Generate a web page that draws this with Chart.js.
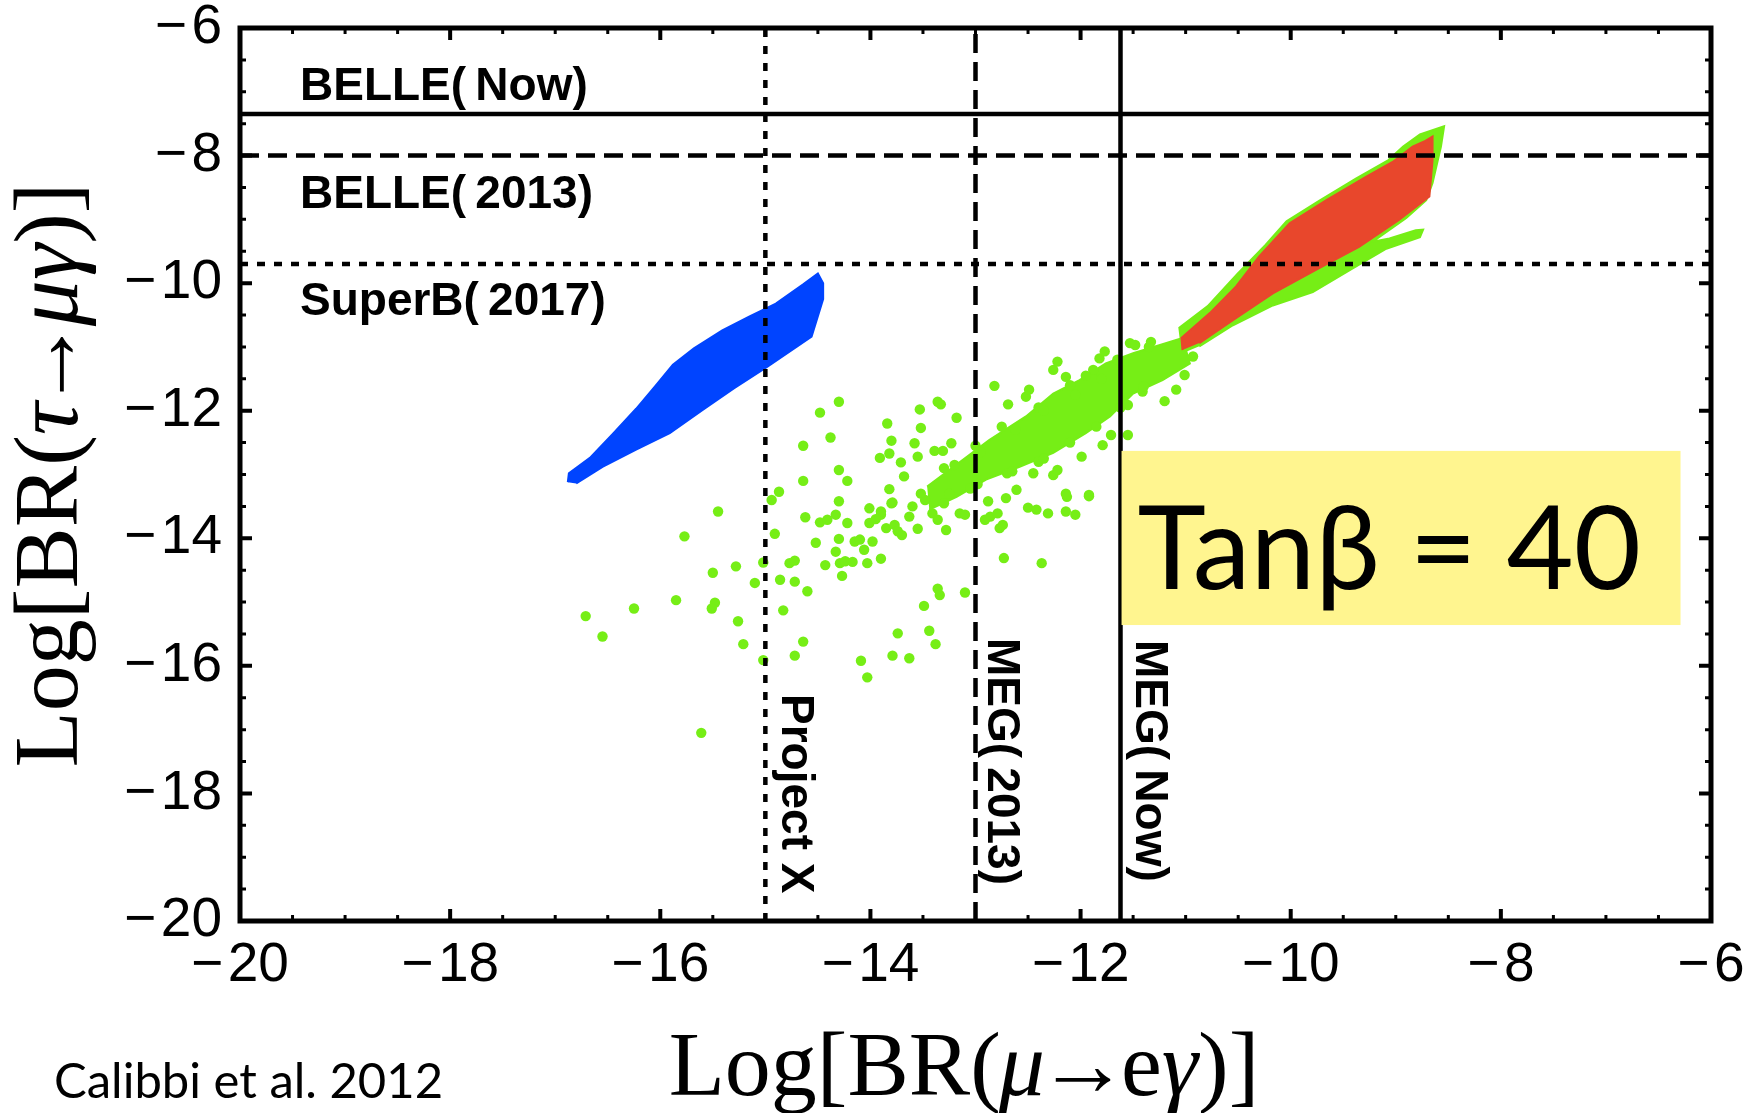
<!DOCTYPE html>
<html>
<head>
<meta charset="utf-8">
<title>Log BR(τ→μγ) vs Log BR(μ→eγ)</title>
<script src="https://cdn.jsdelivr.net/npm/chart.js@4.4.1/dist/chart.umd.min.js"></script>
<style>
  html, body { margin: 0; padding: 0; background: #fff; }
  #wrap { width: 1754px; height: 1113px; position: relative; }
</style>
</head>
<body>
<div id="wrap"><canvas id="lfv-chart"></canvas></div>
<script>
// ---- axes: log10 of the branching ratios ----
const axisMin = -20;
const axisMax = -6;
const majorStep = 2;
const minorStep = 0.5;

// ---- experimental limits ----
const tauLimitLabels = ['BELLE(\u2009Now)', 'BELLE(\u20092013)', 'SuperB(\u20092017)'];
const tauLimitValues = [-7.35, -8.0, -9.7];
const muLimitLabels = ['Project X', 'MEG(\u20092013)', 'MEG(\u2009Now)'];
const muLimitValues = [-15.0, -13.0, -11.62];

// ---- scan regions, [log BR(mu->e gamma), log BR(tau->mu gamma)] ----
const blueRegion = [
    [-16.88, -13.12], [-16.87, -12.98], [-16.67, -12.74], [-16.45, -12.36], [-16.23, -11.97],
    [-16.05, -11.62], [-15.88, -11.28], [-15.68, -11.02], [-15.41, -10.74], [-15.15, -10.52],
    [-14.90, -10.32], [-14.64, -10.02], [-14.50, -9.85], [-14.45, -10.00], [-14.45, -10.25],
    [-14.56, -10.84], [-14.98, -11.31], [-15.30, -11.65], [-15.60, -11.99], [-15.91, -12.35],
    [-16.23, -12.61], [-16.55, -12.88], [-16.80, -13.14]
];

const redRegion = [
    [-11.03, -11.05], [-11.04, -10.86], [-10.77, -10.47], [-10.52, -10.05], [-10.30, -9.58],
    [-10.01, -9.06], [-9.66, -8.70], [-9.28, -8.33], [-9.03, -8.10], [-8.84, -7.86],
    [-8.73, -7.78], [-8.65, -7.70], [-8.65, -8.07], [-8.68, -8.64], [-8.97, -9.01],
    [-9.35, -9.43], [-9.76, -9.79], [-10.17, -10.16], [-10.55, -10.58], [-10.87, -10.94]
];

const greenHalo = [
    [-11.03, -11.10], [-11.06, -10.70], [-10.79, -10.36], [-10.51, -9.86], [-10.24, -9.40],
    [-10.04, -9.03], [-9.73, -8.71], [-9.38, -8.36], [-9.07, -8.07], [-8.93, -7.86],
    [-8.77, -7.67], [-8.54, -7.54], [-8.57, -7.86], [-8.65, -8.43], [-8.71, -8.70],
    [-8.90, -8.98], [-9.22, -9.35], [-9.06, -9.30], [-8.81, -9.17], [-8.74, -9.16],
    [-8.77, -9.28], [-9.09, -9.46], [-9.41, -9.77], [-9.79, -10.14], [-10.17, -10.35],
    [-10.55, -10.66], [-10.87, -10.99]
];

const greenCore = [
    [-13.46, -13.19], [-13.12, -12.77], [-12.87, -12.46], [-12.52, -12.09], [-12.26, -11.73],
    [-12.01, -11.52], [-11.76, -11.26], [-11.50, -11.10], [-11.19, -10.94], [-11.03, -10.86],
    [-10.96, -11.26], [-11.22, -11.52], [-11.50, -11.73], [-11.72, -12.09], [-11.95, -12.35],
    [-12.26, -12.66], [-12.58, -12.88], [-12.90, -13.08], [-13.18, -13.35], [-13.44, -13.55]
];

const greenPoints = [
    [-14.30, -11.86], [-14.48, -12.03], [-13.84, -12.20], [-13.80, -12.47], [-14.64, -12.55], [-14.38, -12.42],
    [-13.91, -12.74], [-13.82, -12.67], [-14.30, -12.93], [-14.22, -13.10], [-14.64, -13.10], [-13.82, -13.23],
    [-14.87, -13.27], [-14.94, -13.40], [-14.30, -13.42], [-14.01, -13.53], [-13.80, -13.45], [-13.90, -13.63],
    [-15.45, -13.58], [-14.62, -13.67], [-14.48, -13.75], [-14.41, -13.71], [-14.33, -13.63], [-14.22, -13.76],
    [-14.01, -13.76], [-13.85, -13.84], [-13.77, -13.79], [-13.74, -13.89], [-15.77, -13.97], [-14.91, -13.93],
    [-14.52, -14.07], [-14.30, -14.01], [-14.15, -14.05], [-14.10, -14.02], [-14.06, -14.18], [-13.98, -14.05],
    [-14.33, -14.21], [-14.43, -14.42], [-14.29, -14.39], [-14.24, -14.36], [-14.17, -14.37], [-14.27, -14.59],
    [-14.03, -14.39], [-13.90, -14.32], [-14.77, -14.39], [-14.72, -14.35], [-15.28, -14.44], [-15.50, -14.54],
    [-14.86, -14.65], [-14.72, -14.68], [-15.10, -14.70], [-14.60, -14.83], [-15.02, -14.38], [-15.85, -14.97],
    [-16.25, -15.10], [-15.48, -15.01], [-15.51, -15.10], [-16.71, -15.22], [-14.83, -15.13], [-15.26, -15.30],
    [-16.55, -15.54], [-15.21, -15.66], [-15.02, -15.91], [-14.64, -15.62], [-14.72, -15.84], [-15.61, -17.05],
    [-14.09, -15.92], [-14.03, -16.18], [-13.74, -15.49], [-13.79, -15.84], [-13.63, -15.88], [-13.49, -15.06],
    [-13.44, -15.45], [-13.38, -15.66], [-13.36, -14.79], [-13.34, -14.89], [-13.10, -14.85],
    [-12.37, -14.39], [-12.73, -14.31], [-12.77, -13.84], [-12.86, -13.66], [-12.50, -13.52], [-12.13, -13.35],
    [-11.92, -13.34], [-12.05, -13.63],
    [-13.53, -11.98], [-13.36, -11.86], [-13.33, -11.90], [-13.18, -12.11], [-13.52, -12.27], [-13.58, -12.51],
    [-13.23, -12.51], [-13.39, -12.63], [-13.31, -12.63], [-13.55, -12.72], [-13.71, -12.81], [-13.68, -13.03],
    [-13.79, -13.44], [-13.90, -13.58], [-13.60, -13.50], [-13.63, -13.66], [-13.41, -13.61], [-13.36, -13.71],
    [-13.28, -13.87], [-13.15, -13.61], [-13.10, -13.63], [-12.88, -13.42], [-12.91, -13.71], [-12.79, -13.61],
    [-12.71, -13.37], [-12.61, -13.24], [-12.74, -13.79], [-12.42, -13.55], [-12.31, -13.61], [-12.14, -13.30],
    [-12.14, -13.58], [-11.92, -13.32], [-12.45, -12.98], [-12.26, -13.01], [-12.22, -12.93], [-11.99, -12.72],
    [-11.79, -12.54], [-11.71, -12.38], [-11.55, -12.38], [-12.82, -11.61], [-12.69, -11.90], [-12.52, -11.78],
    [-12.49, -11.67], [-12.26, -11.36], [-12.22, -11.23], [-12.14, -11.47], [-11.88, -11.36], [-11.82, -11.18],
    [-11.77, -11.07], [-11.53, -10.94], [-11.48, -10.97], [-11.33, -10.92], [-11.41, -11.70], [-11.09, -11.67],
    [-11.20, -11.85], [-11.01, -11.44], [-10.93, -11.15], [-11.55, -11.91],
    [-13.30, -12.90], [-13.00, -12.55], [-12.75, -12.25], [-12.40, -11.95], [-12.10, -11.60], [-11.95, -11.45],
    [-11.65, -11.20], [-11.35, -11.00], [-11.40, -11.62], [-11.62, -11.95], [-11.85, -12.25], [-12.10, -12.50],
    [-12.40, -12.80], [-12.70, -12.98], [-13.05, -13.22], [-13.30, -13.45],
    [-13.95, -13.70], [-13.70, -13.95], [-13.55, -13.85], [-13.48, -13.40], [-13.52, -13.30],
    [-13.20, -12.85], [-12.95, -12.65], [-12.62, -12.30], [-12.35, -12.00], [-12.05, -11.75], [-11.80, -11.50],
    [-13.25, -13.30], [-12.98, -13.15], [-12.65, -12.95], [-12.35, -12.75]
];

// yellow annotation box, in axis units
const tanBetaText = 'Tanβ = 40';
const tanBetaBox = { x0: -11.61, x1: -6.29, y0: -12.63, y1: -15.36 };
const creditText = 'Calibbi et al. 2012';

// ---- colours / styles ----
const GREEN = '#76ee16';
const RED = '#e8472c';
const BLUE = '#0044ff';
const tauDashes = [[], [19, 9], [8, 9]];   // solid, dashed, dotted
const muDashes = [[8, 9], [19, 9], []];    // dotted, dashed, solid

const toXY = pts => pts.map(([x, y]) => ({ x, y }));

function regionDataset(pts, color, order) {
    return {
        data: toXY(pts),
        showLine: true,
        fill: 'shape',
        backgroundColor: color,
        borderColor: color,
        borderWidth: 2,
        pointRadius: 0,
        tension: 0,
        order
    };
}

function limitDataset(points, dash) {
    return {
        data: points,
        showLine: true,
        fill: false,
        borderColor: '#000',
        borderWidth: 4.5,
        borderDash: dash,
        borderCapStyle: 'butt',
        pointRadius: 0,
        order: 0
    };
}

const datasets = [
    regionDataset(greenHalo, GREEN, 10),
    regionDataset(greenCore, GREEN, 9),
    {
        data: toXY(greenPoints),
        backgroundColor: GREEN,
        borderWidth: 0,
        pointRadius: 5.2,
        order: 8
    },
    regionDataset(redRegion, RED, 7),
    regionDataset(blueRegion, BLUE, 6),
    ...tauLimitValues.map((v, i) => limitDataset([{ x: axisMin, y: v }, { x: axisMax, y: v }], tauDashes[i])),
    ...muLimitValues.map((v, i) => limitDataset([{ x: v, y: axisMin }, { x: v, y: axisMax }], muDashes[i]))
];

const SERIF = '"Liberation Serif", "Times New Roman", "DejaVu Serif", serif';
const SANS = '"Liberation Sans", Arial, Helvetica, sans-serif';

// draws a row of [text, italic, kern] runs centred on x; kern tightens the gap after a run
function drawRuns(ctx, runs, x, y, size) {
    const fonts = runs.map(([, italic]) => `${italic ? 'italic ' : ''}${size}px ${SERIF}`);
    const widths = runs.map(([t, , kern = 0], i) => { ctx.font = fonts[i]; return ctx.measureText(t).width + kern; });
    let cx = x - widths.reduce((a, b) => a + b, 0) / 2;
    ctx.textAlign = 'left';
    ctx.textBaseline = 'alphabetic';
    runs.forEach(([t], i) => { ctx.font = fonts[i]; ctx.fillText(t, cx, y); cx += widths[i]; });
}

/* -------------------- annotations, frame and ticks -------------------- */

const decorations = {
    id: 'decorations',
    afterDatasetsDraw(chart) {
        const { ctx, chartArea: a, scales: { x, y } } = chart;
        ctx.save();
        ctx.fillStyle = '#000';

        // limit labels
        ctx.font = `bold 46px ${SANS}`;
        ctx.textAlign = 'left';
        ctx.textBaseline = 'alphabetic';
        const hOffsets = [-14, 52, 51];
        tauLimitLabels.forEach((label, i) => {
            ctx.fillText(label, a.left + 60, y.getPixelForValue(tauLimitValues[i]) + hOffsets[i]);
        });
        const vOffsets = [17, 12, 16];
        const vStarts = [694, 638, 640];
        muLimitLabels.forEach((label, i) => {
            ctx.save();
            ctx.translate(x.getPixelForValue(muLimitValues[i]) + vOffsets[i], vStarts[i]);
            ctx.rotate(Math.PI / 2);
            ctx.fillText(label, 0, 0);
            ctx.restore();
        });

        // tan beta box
        const bx0 = x.getPixelForValue(tanBetaBox.x0);
        const bx1 = x.getPixelForValue(tanBetaBox.x1);
        const by0 = y.getPixelForValue(tanBetaBox.y0);
        const by1 = y.getPixelForValue(tanBetaBox.y1);
        ctx.fillStyle = '#fff58f';
        ctx.fillRect(bx0, by0, bx1 - bx0, by1 - by0);
        ctx.fillStyle = '#000';
        ctx.font = `116px Lato, "Open Sans", "Noto Sans", sans-serif`;
        ctx.fillText(tanBetaText, bx0 + 16, by0 + 138);

        // frame
        ctx.strokeStyle = '#000';
        ctx.lineWidth = 5;
        ctx.strokeRect(a.left, a.top, a.right - a.left, a.bottom - a.top);

        // inward ticks on all four sides
        for (let k = 0; k <= (axisMax - axisMin) / minorStep; k++) {
            const v = axisMin + k * minorStep;
            const major = Math.abs(v / majorStep - Math.round(v / majorStep)) < 1e-9;
            const len = major ? 12 : 6;
            ctx.lineWidth = major ? 4 : 3;
            const px = x.getPixelForValue(v);
            const py = y.getPixelForValue(v);
            ctx.beginPath();
            ctx.moveTo(px, a.bottom); ctx.lineTo(px, a.bottom - len);
            ctx.moveTo(px, a.top); ctx.lineTo(px, a.top + len);
            ctx.moveTo(a.left, py); ctx.lineTo(a.left + len, py);
            ctx.moveTo(a.right, py); ctx.lineTo(a.right - len, py);
            ctx.stroke();
        }

        // axis titles
        drawRuns(ctx, [['Log[BR(', false, -2], ['μ', true, -8], ['→', false, -8], ['e', false], ['γ', true], [')]', false]],
            964, 1095, 92);
        ctx.save();
        ctx.translate(77, 475);
        ctx.rotate(-Math.PI / 2);
        drawRuns(ctx, [['Log[BR(', false], ['τ', true, -8], ['→', false, -8], ['μγ', true], [')]', false]],
            0, 0, 92);
        ctx.restore();

        // credit line
        ctx.font = `49px Lato, "Open Sans", sans-serif`;
        ctx.textAlign = 'left';
        ctx.fillText(creditText, 54, 1098);

        ctx.restore();
    }
};

const tickFormat = v => '\u2212\u200a' + Math.abs(v);

new Chart(document.getElementById('lfv-chart'), {
    type: 'scatter',
    data: { datasets },
    options: {
        responsive: true,
        maintainAspectRatio: false,
        animation: false,
        devicePixelRatio: 1,
        layout: { padding: { top: 28, right: 43, left: 0, bottom: 0 } },
        plugins: {
            legend: { display: false },
            tooltip: { enabled: false }
        },
        scales: {
            x: {
                type: 'linear',
                min: axisMin,
                max: axisMax,
                grid: { display: false, drawTicks: false },
                border: { display: false },
                ticks: {
                    stepSize: majorStep,
                    callback: tickFormat,
                    color: '#000',
                    font: { family: SANS, size: 55 },
                    padding: 12,
                    maxRotation: 0,
                    autoSkip: false
                },
                afterFit(scale) {
                    scale.height = 192;
                    scale.paddingLeft = 0;
                    scale.paddingRight = 0;
                }
            },
            y: {
                type: 'linear',
                min: axisMin,
                max: axisMax,
                grid: { display: false, drawTicks: false },
                border: { display: false },
                ticks: {
                    stepSize: majorStep,
                    callback: tickFormat,
                    color: '#000',
                    font: { family: SANS, size: 55 },
                    padding: 18,
                    autoSkip: false
                },
                afterFit(scale) {
                    scale.width = 240;
                    scale.paddingTop = 0;
                    scale.paddingBottom = 0;
                }
            }
        }
    },
    plugins: [decorations]
});
</script>
</body>
</html>
